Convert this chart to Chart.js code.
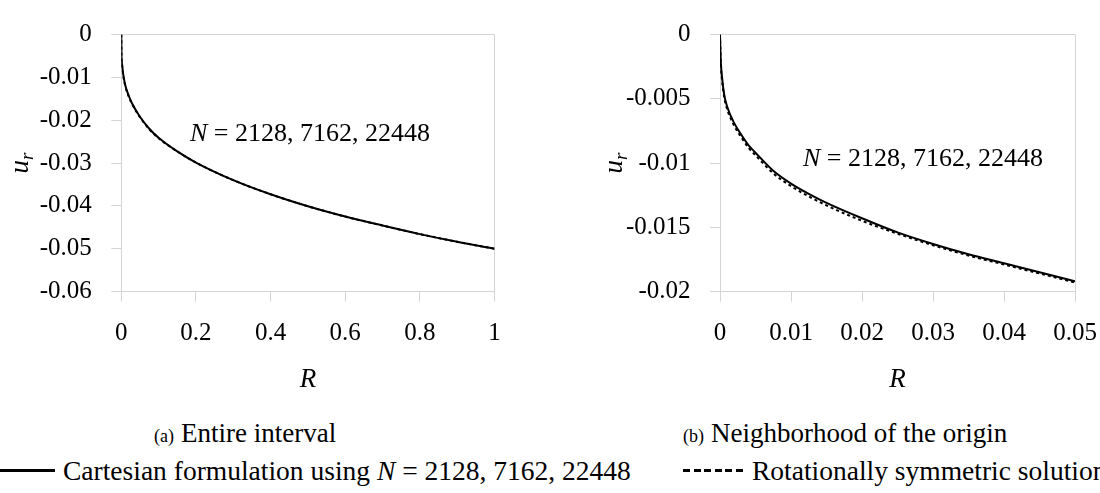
<!DOCTYPE html>
<html>
<head>
<meta charset="utf-8">
<script src="https://cdn.jsdelivr.net/npm/chart.js@4.4.1/dist/chart.umd.min.js"></script>
<style>
  html, body { margin: 0; padding: 0; background: #fff; overflow: hidden; width: 1100px; height: 493px; }
  body { position: relative; font-family: "Liberation Serif", Tinos, "Times New Roman", "DejaVu Serif", serif; color: #000; }
  canvas { position: absolute; top: 0; }
  #chartFull { left: 0; }
  #chartNear { left: 560px; }
  .caption { position: absolute; font-size: 27px; line-height: 27px; white-space: nowrap; }
  .caption small { font-size: 18px; margin-right: 7px; }
  .legend-sample { position: absolute; height: 3px; }
  .legend-text { position: absolute; font-size: 27.5px; line-height: 27px; white-space: nowrap; }
</style>
</head>
<body>
<canvas id="chartFull" width="560" height="400"></canvas>
<canvas id="chartNear" width="600" height="400"></canvas>
<div class="caption" style="left:154px; top:420px"><small>(a)</small>Entire interval</div>
<div class="caption" style="left:683px; top:420px"><small>(b)</small>Neighborhood of the origin</div>
<div id="legendFull"></div>
<div id="legendNear"></div>
<script>
const meshSizes = [2128, 7162, 22448];

// (a) entire interval
const radiusFull     = [0, 0.0005, 0.002, 0.005, 0.01, 0.02, 0.03, 0.05, 0.075, 0.1, 0.15, 0.2, 0.3, 0.4, 0.5, 0.6, 0.7, 0.8, 0.9, 1];
const cartesianFull  = [0, -0.0047, -0.0069, -0.0092, -0.0116, -0.0143, -0.0163, -0.0192, -0.0220, -0.0241, -0.0273, -0.0299, -0.0340, -0.0373, -0.0401, -0.0425, -0.0446, -0.0466, -0.0484, -0.0500];
const rotationalFull = [0, -0.0049, -0.0071, -0.0094, -0.0118, -0.0145, -0.0164, -0.0193, -0.0221, -0.0242, -0.0273, -0.0299, -0.0340, -0.0373, -0.0401, -0.0425, -0.0446, -0.0466, -0.0484, -0.0500];
const xTicksFull  = [0, 0.2, 0.4, 0.6, 0.8, 1];
const xLabelsFull = ['0', '0.2', '0.4', '0.6', '0.8', '1'];
const yTicksFull  = [0, -0.01, -0.02, -0.03, -0.04, -0.05, -0.06];
const yLabelsFull = ['0', '-0.01', '-0.02', '-0.03', '-0.04', '-0.05', '-0.06'];

// (b) neighborhood of the origin
const radiusNear     = [0, 0.0001, 0.0003, 0.0006, 0.001, 0.002, 0.003, 0.004, 0.005, 0.0075, 0.01, 0.0125, 0.015, 0.02, 0.025, 0.03, 0.035, 0.04, 0.045, 0.05];
const cartesianNear  = [0, -0.0019, -0.0034, -0.0047, -0.0056, -0.0069, -0.0078, -0.0086, -0.0092, -0.0106, -0.0116, -0.0124, -0.0131, -0.0143, -0.0154, -0.0163, -0.0171, -0.0178, -0.0185, -0.0192];
const rotationalNear = [0, -0.0021, -0.0036, -0.0049, -0.0058, -0.0071, -0.0080, -0.0088, -0.0094, -0.0108, -0.0118, -0.0126, -0.0133, -0.0145, -0.0155, -0.0164, -0.0172, -0.0179, -0.0186, -0.0193];
const xTicksNear  = [0, 0.01, 0.02, 0.03, 0.04, 0.05];
const xLabelsNear = ['0', '0.01', '0.02', '0.03', '0.04', '0.05'];
const yTicksNear  = [0, -0.005, -0.01, -0.015, -0.02];
const yLabelsNear = ['0', '-0.005', '-0.01', '-0.015', '-0.02'];

const cartesianLabel = 'Cartesian formulation using N = ' + meshSizes.join(', ');
const rotationalLabel = 'Rotationally symmetric solution';

const FONT = '"Liberation Serif", Tinos, "Times New Roman", "DejaVu Serif", serif';
const GRID = '#d4d4d4';

// legend as html, built from the datasets
const htmlLegend = {
  id: 'htmlLegend',
  afterUpdate(chart, args, opts) {
    const box = document.getElementById(opts.containerID);
    box.innerHTML = '';
    chart.data.datasets.forEach((ds, i) => {
      if (!opts.show.includes(i)) return;
      const sample = document.createElement('span');
      sample.className = 'legend-sample';
      sample.style.left = opts.x + 'px';
      sample.style.width = opts.sampleWidth + 'px';
      sample.style.top = (opts.y - 1.5) + 'px';
      sample.style.background = ds.borderDash && ds.borderDash.length
        ? `repeating-linear-gradient(90deg, ${ds.borderColor} 0 7px, transparent 7px 10.6px)`
        : ds.borderColor;
      const text = document.createElement('span');
      text.className = 'legend-text';
      text.style.left = opts.textX + 'px';
      text.style.top = (opts.y - 13) + 'px';
      text.innerHTML = ds.label.replace(/\bN\b/, '<i>N</i>');
      box.append(sample, text);
    });
  }
};

// y title u_r and the N annotation
const mathText = {
  id: 'mathText',
  afterDraw(chart, args, opts) {
    const { ctx, chartArea, scales } = chart;
    ctx.save();
    ctx.fillStyle = '#000';
    ctx.textAlign = 'left';
    ctx.textBaseline = 'alphabetic';

    ctx.save();
    ctx.translate(opts.titleX, (chartArea.top + chartArea.bottom) / 2);
    ctx.rotate(-Math.PI / 2);
    ctx.font = `italic 27px ${FONT}`;
    const uW = ctx.measureText('u').width;
    ctx.font = `italic 19px ${FONT}`;
    const rW = ctx.measureText('r').width;
    const x0 = -(uW + rW) / 2;
    ctx.font = `italic 27px ${FONT}`;
    ctx.fillText('u', x0, 6);
    ctx.font = `italic 19px ${FONT}`;
    ctx.fillText('r', x0 + uW, 11);
    ctx.restore();

    let px = scales.x.getPixelForValue(opts.noteAt[0]);
    const py = scales.y.getPixelForValue(opts.noteAt[1]);
    ctx.font = `italic 26px ${FONT}`;
    ctx.fillText('N', px, py);
    px += ctx.measureText('N').width;
    ctx.font = `26px ${FONT}`;
    ctx.fillText(' = ' + meshSizes.join(', '), px, py);
    ctx.restore();
  }
};

function toPoints(xs, ys) {
  return xs.map((x, i) => ({ x: x, y: ys[i] }));
}

function makeChart(id, cfg) {
  const edgeColor = max => c => (c.tick && c.tick.value === max ? GRID : 'rgba(0,0,0,0)');
  return new Chart(document.getElementById(id), {
    type: 'scatter',
    data: {
      datasets: [{
        label: cartesianLabel,
        data: toPoints(cfg.radius, cfg.cartesian),
        borderColor: '#000',
        borderWidth: 2,
        showLine: true,
        pointRadius: 0,
        cubicInterpolationMode: 'monotone'
      }, {
        label: rotationalLabel,
        data: toPoints(cfg.radius, cfg.rotational),
        borderColor: '#000',
        borderWidth: 2,
        borderDash: [3, 3],
        showLine: true,
        pointRadius: 0,
        cubicInterpolationMode: 'monotone'
      }]
    },
    options: {
      responsive: false,
      animation: false,
      events: [],
      layout: { padding: { left: 0, top: 21.7, right: cfg.padRight, bottom: 0 } },
      plugins: {
        legend: { display: false },
        tooltip: { enabled: false },
        htmlLegend: cfg.legend,
        mathText: { titleX: cfg.titleX, noteAt: cfg.noteAt }
      },
      scales: {
        x: {
          type: 'linear',
          min: cfg.xTicks[0],
          max: cfg.xTicks[cfg.xTicks.length - 1],
          afterBuildTicks: s => { s.ticks = cfg.xTicks.map(v => ({ value: v })); },
          afterFit: s => { s.height = 108.5; },
          ticks: {
            autoSkip: false,
            maxRotation: 0,
            padding: 17,
            color: '#000',
            font: { family: FONT, size: 25 },
            callback: v => cfg.xLabels[cfg.xTicks.indexOf(v)]
          },
          grid: { color: edgeColor(cfg.xTicks[cfg.xTicks.length - 1]), tickColor: GRID, tickLength: 10 },
          border: { color: GRID },
          title: {
            display: true, text: 'R', color: '#000',
            font: { family: FONT, size: 27, style: 'italic' },
            padding: { top: 0, bottom: 4 }
          }
        },
        y: {
          min: cfg.yTicks[cfg.yTicks.length - 1],
          max: 0,
          afterBuildTicks: s => { s.ticks = cfg.yTicks.map(v => ({ value: v })); },
          afterFit: s => { s.width = cfg.yWidth; },
          ticks: {
            autoSkip: false,
            padding: 19.5,
            color: '#000',
            font: { family: FONT, size: 25 },
            callback: v => cfg.yLabels[cfg.yTicks.indexOf(v)]
          },
          grid: { color: edgeColor(0), tickColor: GRID, tickLength: 10 },
          border: { color: GRID }
        }
      }
    },
    plugins: [htmlLegend, mathText]
  });
}

makeChart('chartFull', {
  radius: radiusFull, cartesian: cartesianFull, rotational: rotationalFull,
  xTicks: xTicksFull, xLabels: xLabelsFull, yTicks: yTicksFull, yLabels: yLabelsFull,
  yWidth: 121.3, padRight: 65.5, titleX: 22, noteAt: [0.184, -0.02475],
  legend: { containerID: 'legendFull', show: [0], x: -5, sampleWidth: 60, textX: 63, y: 470 }
});

makeChart('chartNear', {
  radius: radiusNear, cartesian: cartesianNear, rotational: rotationalNear,
  xTicks: xTicksNear, xLabels: xLabelsNear, yTicks: yTicksNear, yLabels: yLabelsNear,
  yWidth: 160, padRight: 85, titleX: 56, noteAt: [0.01169, -0.01025],
  legend: { containerID: 'legendNear', show: [1], x: 683, sampleWidth: 60, textX: 752, y: 470 }
});
</script>
</body>
</html>
